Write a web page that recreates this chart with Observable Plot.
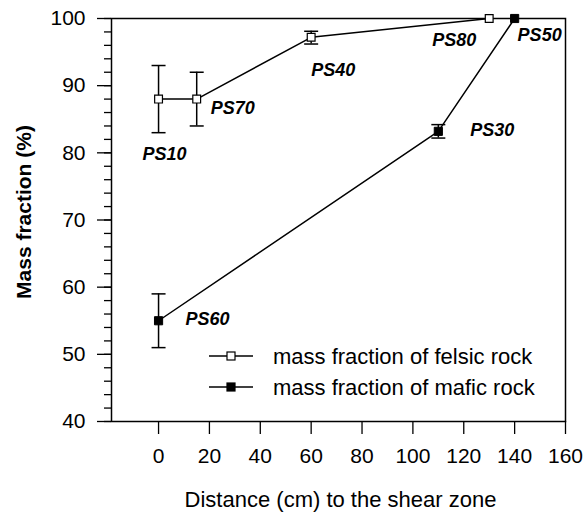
<!DOCTYPE html>
<html>
<head>
<meta charset="utf-8">
<script src="https://cdn.jsdelivr.net/npm/d3@7"></script>
<script src="https://cdn.jsdelivr.net/npm/@observablehq/plot@0.6"></script>
<style>
  html, body { margin: 0; padding: 0; background: #fff; }
</style>
</head>
<body>
<div id="chart"></div>
<script>
// ---- data ----
const felsicX = [0, 15, 60, 130];
const felsicY = [88, 88, 97.2, 100];
const felsicLow = [83, 84, 96.2, null];
const felsicHigh = [93, 92, 98.1, null];
const felsicLabels = ["PS10", "PS70", "PS40", "PS80"];

const maficX = [0, 110, 140];
const maficY = [55, 83.2, 100];
const maficLow = [51, 82.2, null];
const maficHigh = [59, 84.2, null];
const maficLabels = ["PS60", "PS30", "PS50"];

const xTicks = [0, 20, 40, 60, 80, 100, 120, 140, 160];
const yTicks = [40, 50, 60, 70, 80, 90, 100];
const yMinorTicks = d3.range(40, 100.1, 2);

const legendLabels = ["mass fraction of felsic rock", "mass fraction of mafic rock"];
const xTitle = "Distance (cm) to the shear zone";
const yTitle = "Mass fraction (%)";

// ---- build rows ----
const felsic = felsicX.map((x, i) => ({x, y: felsicY[i], lo: felsicLow[i], hi: felsicHigh[i], label: felsicLabels[i]}));
const mafic = maficX.map((x, i) => ({x, y: maficY[i], lo: maficLow[i], hi: maficHigh[i], label: maficLabels[i]}));
const errs = felsic.concat(mafic).filter(d => d.lo != null);

const labelOffsets = {
  PS10: [6, 55], PS70: [36, 9], PS40: [22, 33], PS80: [-35, 22],
  PS50: [25, 17], PS30: [54, -1], PS60: [49, -2]
};

const capSymbol = { draw(ctx) { ctx.moveTo(-7, 0); ctx.lineTo(7, 0); } };

const labelMarks = felsic.concat(mafic).map(d =>
  Plot.text([d], {
    x: "x", y: "y", text: "label",
    dx: labelOffsets[d.label][0], dy: labelOffsets[d.label][1],
    fontSize: 18, fontWeight: "bold", fontStyle: "italic", fill: "black"
  })
);

const chart = Plot.plot({
  width: 585,
  height: 512,
  marginLeft: 111,
  marginRight: 20,
  marginTop: 18,
  marginBottom: 91,
  style: { fontFamily: "'Liberation Sans', Arial, sans-serif", background: "#fff", color: "black", overflow: "visible" },
  x: { domain: [-18.5, 160] },
  y: { domain: [40, 100] },
  marks: [
    Plot.axisY({ ticks: yMinorTicks, tickSize: 7, text: null, label: null, strokeWidth: 1.3 }),
    Plot.axisY({ ticks: yTicks, tickSize: 14, tickPadding: 12, fontSize: 21, label: null, strokeWidth: 1.3 }),
    Plot.axisX({ ticks: xTicks, tickSize: 13, tickPadding: 14, fontSize: 21, label: null, strokeWidth: 1.3 }),
    Plot.frame({ stroke: "black", strokeWidth: 1.5 }),
    Plot.ruleX(errs, { x: "x", y1: "lo", y2: "hi", stroke: "black", strokeWidth: 1.5 }),
    Plot.dot(errs, { x: "x", y: "lo", symbol: capSymbol, stroke: "black", strokeWidth: 1.5, fill: "none" }),
    Plot.dot(errs, { x: "x", y: "hi", symbol: capSymbol, stroke: "black", strokeWidth: 1.5, fill: "none" }),
    Plot.line(felsic, { x: "x", y: "y", stroke: "black", strokeWidth: 1.5 }),
    Plot.line(mafic, { x: "x", y: "y", stroke: "black", strokeWidth: 1.5 }),
    Plot.dot(felsic, { x: "x", y: "y", symbol: "square", r: 4.4, fill: "white", stroke: "black", strokeWidth: 1.2 }),
    Plot.dot(mafic, { x: "x", y: "y", symbol: "square", r: 4.6, fill: "black", stroke: "black", strokeWidth: 1 }),
    ...labelMarks,
    Plot.text([xTitle], { text: d => d, frameAnchor: "bottom", textAnchor: "middle", lineAnchor: "middle", dx: 2, dy: 78, fontSize: 22, fill: "black" }),
    Plot.text([yTitle], { text: d => d, frameAnchor: "left", textAnchor: "middle", lineAnchor: "middle", dx: -87, dy: -8, rotate: -90, fontSize: 21, fontWeight: "bold", fill: "black" })
  ]
});

document.getElementById("chart").appendChild(chart);

// ---- legend (inside plot area) ----
const svg = d3.select(chart);
const legend = svg.append("g")
  .attr("font-family", "'Liberation Sans', Arial, sans-serif")
  .attr("text-anchor", "start");
const legendRows = [
  { label: legendLabels[0], fill: "white" },
  { label: legendLabels[1], fill: "black" }
];
legendRows.forEach((r, i) => {
  const y = 356 + i * 31;
  legend.append("line").attr("x1", 209).attr("x2", 253).attr("y1", y).attr("y2", y)
    .attr("stroke", "black").attr("stroke-width", 1.3);
  legend.append("rect").attr("x", 231 - 4).attr("y", y - 4).attr("width", 8).attr("height", 8)
    .attr("fill", r.fill).attr("stroke", "black").attr("stroke-width", 1.2);
  legend.append("text").attr("x", 273).attr("y", y).attr("dy", "0.35em")
    .attr("text-anchor", "start")
    .attr("font-size", 22).attr("fill", "black").text(r.label);
});
</script>
</body>
</html>
